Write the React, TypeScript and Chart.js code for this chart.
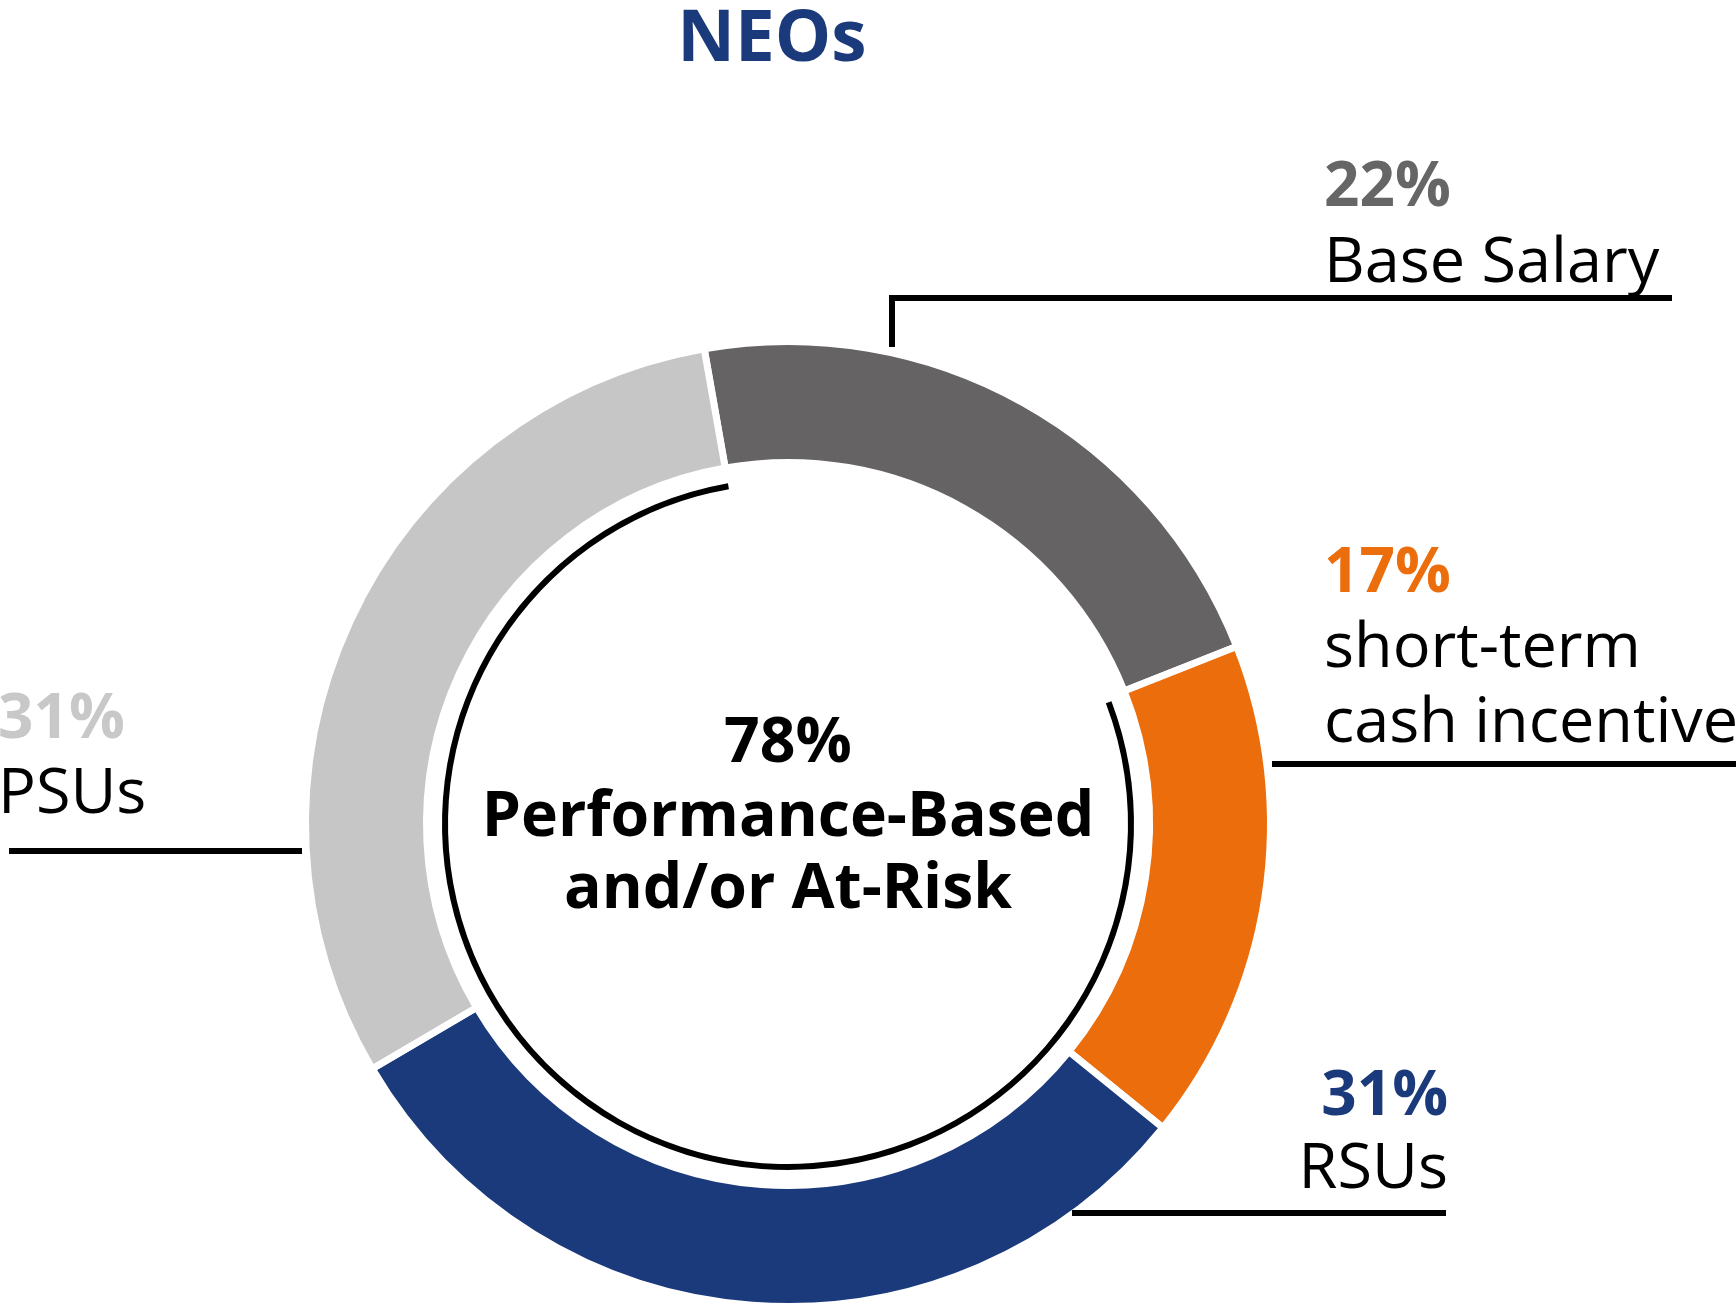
import React, { useEffect, useRef } from 'react';
import { Chart, registerables } from 'chart.js';

Chart.register(...registerables);

// ---- data ----
const categories = ['Base Salary', 'short-term cash incentive', 'RSUs', 'PSUs'];
const shares = [22, 17, 31, 31];
const performanceSplit = [22, 78]; // fixed pay vs performance-based and/or at-risk
const segmentColors = ['#656364', '#ec6d0c', '#1b3a7b', '#c6c6c6'];
const labelColors = ['#666666', '#ec6d0c', '#1b3a7b', '#c8c8c8'];
const titleText = 'NEOs';
const centerCaption = ['Performance-Based', 'and/or At-Risk'];
const nameLines = [['Base Salary'], ['short-term', 'cash incentive'], ['RSUs'], ['PSUs']];

// ---- layout of annotations (positions only) ----
const labelLayout = [
  { x: 1324, align: 'left', pctY: 206, nameY: 282, lead: [[892, 347], [892, 298], [1672, 298]] },
  { x: 1324, align: 'left', pctY: 592, nameY: 667, lead: [[1272, 764], [1736, 764]] },
  { x: 1448, align: 'right', pctY: 1115, nameY: 1188, lead: [[1072, 1213], [1446, 1213]] },
  { x: -2, align: 'left', pctY: 738, nameY: 813, lead: [[9, 851], [302, 851]] },
];

const FONT = '"Open Sans", "Noto Sans", sans-serif';

const annotationPlugin = {
  id: 'annotations',
  afterDraw(chart: any) {
    const ctx = chart.ctx as CanvasRenderingContext2D;
    const meta = chart.getDatasetMeta(0);
    const arc = meta.data[0];
    const cx = arc.x;
    const cy = arc.y;
    ctx.save();
    // title
    ctx.fillStyle = '#1b3a7b';
    ctx.font = `bold 71px ${FONT}`;
    ctx.textAlign = 'center';
    ctx.textBaseline = 'alphabetic';
    ctx.fillText(titleText, 772, 61);

    // leader lines
    ctx.strokeStyle = '#000';
    ctx.lineWidth = 6;
    ctx.lineJoin = 'miter';
    ctx.lineCap = 'butt';
    labelLayout.forEach((l) => {
      ctx.beginPath();
      l.lead.forEach((p, i) => (i === 0 ? ctx.moveTo(p[0], p[1]) : ctx.lineTo(p[0], p[1])));
      ctx.stroke();
    });

    // labels
    labelLayout.forEach((l, i) => {
      ctx.textAlign = l.align as CanvasTextAlign;
      ctx.fillStyle = labelColors[i];
      ctx.font = `bold 62px ${FONT}`;
      ctx.fillText(`${shares[i]}%`, l.x, l.pctY);
      ctx.fillStyle = '#000';
      ctx.font = `63px ${FONT}`;
      nameLines[i].forEach((t, k) => ctx.fillText(t, l.x, l.nameY + k * 75));
    });

    // center text
    ctx.textAlign = 'center';
    ctx.fillStyle = '#000';
    ctx.font = `bold 62.5px ${FONT}`;
    ctx.fillText(`${performanceSplit[1]}%`, cx, cy - 62);
    ctx.fillText(centerCaption[0], cx, cy + 12);
    ctx.fillText(centerCaption[1], cx, cy + 84);
    ctx.restore();
  },
};

export default function App() {
  const ref = useRef<HTMLCanvasElement | null>(null);
  useEffect(() => {
    if (!ref.current) return;
    const chart = new Chart(ref.current, {
      type: 'doughnut',
      data: {
        labels: categories,
        datasets: [
          {
            data: shares,
            backgroundColor: segmentColors,
            borderColor: '#ffffff',
            borderWidth: 7,
            weight: 121,
          },
          {
            data: [1],
            backgroundColor: ['rgba(0,0,0,0)'],
            borderWidth: 0,
            weight: 15.5,
          },
          {
            data: performanceSplit,
            backgroundColor: ['rgba(0,0,0,0)', '#000000'],
            borderWidth: 0,
            weight: 6,
          },
        ],
      } as any,
      options: {
        responsive: false,
        animation: false,
        devicePixelRatio: 1,
        rotation: -10,
        radius: 482.5,
        cutout: '70.466%',
        layout: { padding: { left: 0, right: 160, top: 340, bottom: 0 } },
        plugins: {
          legend: { display: false },
          tooltip: { enabled: false },
          title: { display: false },
        },
        events: [],
      } as any,
      plugins: [annotationPlugin],
    });
    return () => chart.destroy();
  }, []);
  return (
    <div style={{ position: 'absolute', left: 0, top: 0, width: 1736, height: 1308, background: '#fff' }}>
      <canvas ref={ref} width={1736} height={1308} style={{ width: 1736, height: 1308, display: 'block' }} />
    </div>
  );
}
